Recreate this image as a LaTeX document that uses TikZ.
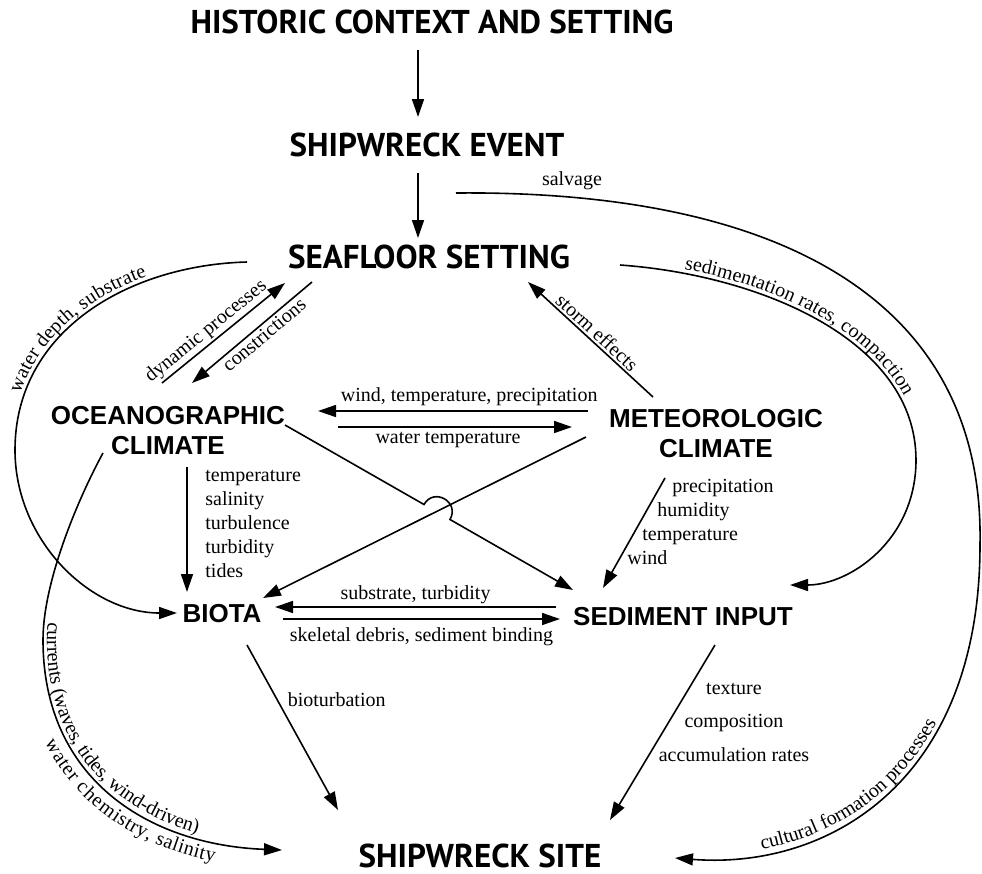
\documentclass[tikz,border=0pt]{standalone}
\usepackage{fontspec}
\setmainfont{Liberation Serif}
\newfontfamily\headfont{PT Sans}
\newfontfamily\boxfont{Liberation Sans}
\usetikzlibrary{arrows.meta}
\usetikzlibrary{decorations.text}

\newcommand{\lblsize}{\fontsize{10}{12}\selectfont}

\begin{document}
\begin{tikzpicture}[x=0.5pt, y=-0.5pt,
	head/.style={font=\headfont\bfseries\fontsize{16.5}{19}\selectfont, inner sep=0pt},
	clim/.style={font=\boxfont\bfseries\fontsize{13}{15}\selectfont, align=center, inner sep=0pt},
	lbl/.style={font=\lblsize, inner sep=1pt},
	arr/.style={-{Triangle[length=9pt,width=6pt]}, line width=0.8pt}]
	\useasboundingbox (0,0) rectangle (982,874);

	% stages
	\node[head] (hist) at (432,22) {HISTORIC CONTEXT AND SETTING};
	\node[head] (event) at (427,145) {SHIPWRECK EVENT};
	\node[head] (seafloor) at (429,257) {SEAFLOOR SETTING};
	\node[clim] (ocean) at (168,431) {OCEANOGRAPHIC\\CLIMATE};
	\node[clim] (meteo) at (716,434) {METEOROLOGIC\\CLIMATE};
	\node[clim] (biota) at (222,614) {BIOTA};
	\node[clim] (sediment) at (683,617) {SEDIMENT INPUT};
	\node[head] (site) at (480,856) {SHIPWRECK SITE};
	\coordinate (salvage) at (456,193);

	% top chain
	\draw[arr] ([shift={(-14,28)}]hist.center) -- ([shift={(-9,-28)}]event.center);
	\draw[arr] ([shift={(-9,28)}]event.center) -- ([shift={(-11,-19)}]seafloor.center);

	% salvage, all the way round to the site
	\draw[arr] (salvage) .. controls (780,190) and (985,300) .. (980,545)
		.. controls (980,780) and (830,870) .. ([shift={(195,2)}]site.center);
	\node[lbl] (salvagelbl) at (572,181) {salvage};
	\path[decorate, decoration={text along path, text={|\lblsize|cultural formation processes},
		text align={left indent=44pt}, raise=2pt}]
		(675,858) .. controls (830,870) and (980,780) .. (980,545);

	% seafloor -> sediment input
	\draw[arr] ([shift={(191,8)}]seafloor.center) .. controls (760,275) and (916,340) .. (916,460)
		.. controls (916,540) and (850,585) .. ([shift={(107,-32)}]sediment.center);
	\path[decorate, decoration={text along path, text={|\lblsize|sedimentation rates, compaction},
		text align=center, raise=2pt}]
		(620,265) .. controls (760,275) and (916,340) .. (916,460);

	% seafloor -> biota
	\draw[arr] ([shift={(-182,5)}]seafloor.center) .. controls (130,265) and (15,330) .. (15,450)
		.. controls (15,540) and (90,613) .. ([shift={(-45,-1)}]biota.center);
	\path[decorate, decoration={text along path, text={|\lblsize|water depth, substrate},
		text align={left indent=28pt}, raise=2pt}]
		(15,450) .. controls (15,330) and (130,265) .. (247,262);

	% oceanographic climate -> site
	\draw[arr] ([shift={(-65,22)}]ocean.center) .. controls (80,495) and (43,580) .. (43,640)
		.. controls (43,780) and (150,845) .. ([shift={(-198,-6)}]site.center);
	\path[decorate, decoration={text along path, text={|\lblsize|currents (waves, tides, wind-driven)},
		text align={left indent=90pt}, raise=2pt}]
		(103,453) .. controls (80,495) and (43,580) .. (43,640) .. controls (43,780) and (150,845) .. (282,850);
	\path[decorate, decoration={text along path, text={|\lblsize|water chemistry, salinity},
		text align={left indent=147pt}, raise=-10pt}]
		(103,453) .. controls (80,495) and (43,580) .. (43,640) .. controls (43,780) and (150,845) .. (282,850);

	% seafloor <-> oceanographic
	\draw[arr] ([shift={(-6,-48)}]ocean.center) -- node[lbl, sloped, pos=0.42, above] (dynlbl) {dynamic processes}
		([shift={(-144,26)}]seafloor.center);
	\draw[arr] ([shift={(-117,25)}]seafloor.center) -- node[lbl, sloped, pos=0.45, below] (conslbl) {constrictions}
		([shift={(24,-48)}]ocean.center);
	\draw[arr] ([shift={(-63,-37)}]meteo.center) -- node[lbl, sloped, above] (stormlbl) {storm effects}
		([shift={(99,25)}]seafloor.center);

	% between the climates
	\draw[arr] ([shift={(-128,-23)}]meteo.center) -- node[lbl, pos=0.44, above=1pt] (windlbl) {wind, temperature, precipitation}
		([shift={(150,-20)}]ocean.center);
	\draw[arr] ([shift={(170,-4)}]ocean.center) -- node[lbl, pos=0.47, below=1pt] (wtemplbl) {water temperature}
		([shift={(-144,-7)}]meteo.center);

	% crossing lines, one hops over the other
	\draw[arr] ([shift={(117,-6)}]ocean.center) -- (424,504.5) .. controls (434,487) and (460,502) .. (450,519.5)
		-- ([shift={(-110,-27)}]sediment.center);
	\draw[arr] ([shift={(-130,3)}]meteo.center) -- ([shift={(41,-16)}]biota.center);

	% oceanographic -> biota
	\draw[arr] ([shift={(19,36)}]ocean.center) -- ([shift={(-35,-22)}]biota.center);
	\foreach \w [count=\i] in {temperature, salinity, turbulence, turbidity, tides}
		\node[lbl, anchor=base west] (ocvar\i) at (203, {481+24*(\i-1)}) {\w};

	% meteorologic -> sediment input
	\draw[arr] ([shift={(-51,44)}]meteo.center) -- ([shift={(-80,-29)}]sediment.center);
	\foreach \w [count=\i] in {precipitation, humidity, temperature, wind}
		\node[lbl, anchor=base west] (mevar\i) at ({685-15*\i}, {468.5+24*\i}) {\w};

	% biota <-> sediment input
	\draw[arr] ([shift={(-127,-10)}]sediment.center) -- node[lbl, above=0pt] (substlbl) {substrate, turbidity}
		([shift={(53,-7)}]biota.center);
	\draw[arr] ([shift={(61,5)}]biota.center) -- node[lbl, below=3pt] (skellbl) {skeletal debris, sediment binding}
		([shift={(-123,2)}]sediment.center);

	% into the site
	\draw[arr] ([shift={(25,31)}]biota.center) -- node[lbl, pos=0.33, right=4pt] (biotlbl) {bioturbation}
		([shift={(-142,-46)}]site.center);
	\draw[arr] ([shift={(32,28)}]sediment.center) -- ([shift={(130,-36)}]site.center);
	\foreach \w/\y [count=\i] in {texture/694, composition/727, accumulation rates/761}
		\node[lbl, anchor=base] (sedvar\i) at (734,\y) {\w};

\end{tikzpicture}
\end{document}
